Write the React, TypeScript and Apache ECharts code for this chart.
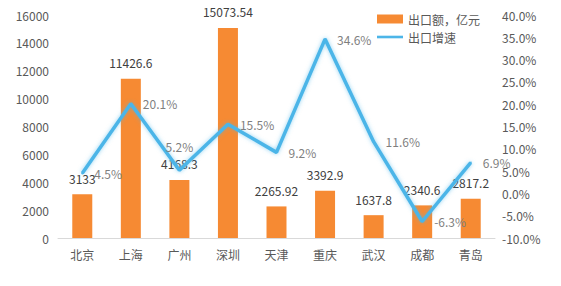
import React, { useEffect, useRef } from "react";
import * as echarts from "echarts";

const cities = ["北京", "上海", "广州", "深圳", "天津", "重庆", "武汉", "成都", "青岛"];
const exportValue = [3133, 11426.6, 4168.3, 15073.54, 2265.92, 3392.9, 1637.8, 2340.6, 2817.2];
const exportValueLabels = ["3133", "11426.6", "4168.3", "15073.54", "2265.92", "3392.9", "1637.8", "2340.6", "2817.2"];
const exportGrowth = [4.5, 20.1, 5.2, 15.5, 9.2, 34.6, 11.6, -6.3, 6.9];
const growthLabelPos = ["right", "right", "top", "right", "right", "right", "right", "right", "right"];

const FONT = "'Noto Sans CJK SC', 'Noto Sans', sans-serif";
const BLUE = "#4cb5e8";

export default function App() {
  const ref = useRef<HTMLDivElement>(null);
  useEffect(() => {
    if (!ref.current) return;
    const chart = echarts.init(ref.current, null, { renderer: "svg" });
    chart.setOption({
      animation: false,
      textStyle: { fontFamily: FONT },
      grid: { left: 58, right: 66, top: 15, bottom: 48 },
      legend: {
        orient: "vertical",
        left: 372,
        top: 8,
        itemWidth: 26,
        itemHeight: 9,
        itemGap: 6,
        textStyle: { color: "#595959", fontSize: 12, fontFamily: FONT },
        data: [
          { name: "出口额，亿元", icon: "rect" },
          { name: "出口增速", icon: "path://M0,3H30V6H0Z", itemStyle: { color: BLUE } },
        ],
      },
      xAxis: {
        type: "category",
        data: cities,
        axisTick: { show: false },
        axisLine: { lineStyle: { color: "#d9d9d9" } },
        axisLabel: { color: "#595959", fontSize: 12, margin: 10, fontFamily: FONT },
      },
      yAxis: [
        {
          type: "value",
          min: 0,
          max: 16000,
          interval: 2000,
          splitLine: { show: false },
          axisLabel: {
            color: "#595959",
            fontSize: 12,
            margin: 9,
            fontFamily: FONT,
            formatter: (v: number) => String(v),
          },
        },
        {
          type: "value",
          min: -10,
          max: 40,
          interval: 5,
          splitLine: { show: false },
          axisLabel: {
            color: "#595959",
            fontSize: 12,
            margin: 7,
            fontFamily: FONT,
            formatter: (v: number) => v.toFixed(1) + "%",
          },
        },
      ],
      series: [
        {
          name: "出口额，亿元",
          type: "bar",
          data: exportValue,
          barWidth: 20,
          itemStyle: { color: "#f68a33" },
          label: {
            show: true,
            position: "top",
            distance: 10,
            color: "#404040",
            fontSize: 12,
            fontFamily: FONT,
            formatter: (p: any) => exportValueLabels[p.dataIndex],
          },
          z: 2,
        },
        {
          name: "出口增速",
          type: "line",
          yAxisIndex: 1,
          data: exportGrowth.map((v, i) => ({
            value: v,
            label: growthLabelPos[i] === "top"
              ? { position: "top", distance: 17 }
              : { position: "right" },
          })),
          symbol: "circle",
          symbolSize: 2,
          showSymbol: true,
          lineStyle: {
            color: BLUE,
            width: 3.5,
            shadowColor: "rgba(76,181,232,0.6)",
            shadowBlur: 4,
          },
          itemStyle: { color: BLUE },
          label: {
            show: true,
            color: "#7f7f7f",
            fontSize: 12,
            distance: 11,
            fontFamily: FONT,
            formatter: (p: any) => exportGrowth[p.dataIndex].toFixed(1) + "%",
          },
          z: 3,
        },
      ],
    });
    return () => chart.dispose();
  }, []);
  return <div ref={ref} style={{ width: 561, height: 286, margin: -8 }} />;
}
